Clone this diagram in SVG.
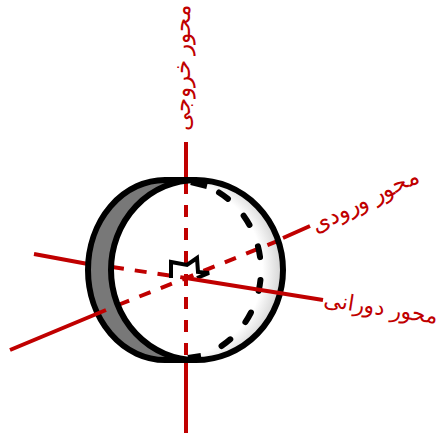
<svg xmlns="http://www.w3.org/2000/svg" width="439" height="434" viewBox="0 0 439 434">
<style>
.axis{stroke:#c00000;stroke-width:4;fill:none}
.dash{stroke-dasharray:12 11}
.ink{stroke:#000;fill:none;stroke-width:6}
.lbl{fill:#c00000;font-family:"Liberation Serif",serif;font-size:23px;direction:rtl;text-anchor:middle}
</style>
<defs><radialGradient id="g" gradientUnits="userSpaceOnUse" cx="176" cy="270" r="108"><stop offset="0.8" stop-color="#fff"/><stop offset="1" stop-color="#cfcfcf"/></radialGradient></defs>
<rect width="439" height="434" fill="#fff"/>
<g id="disc">
<path d="M165 180A77 90 0 0 0 165 360L196 360A85 90 0 0 1 196 180Z" fill="#787878" stroke="none"/>
<path d="M196 180A87 90 0 0 1 196 360A85 90 0 0 1 196 180Z" fill="url(#g)" stroke="none"/>
</g>
<g id="connectors">
<path class="axis" d="M186 142V180M186 360V433M34 254L88 264M283 238L310 226"/>
<path class="axis dash" d="M186 182V360M112 267L186 278M118 305L186 278L280 240"/>
</g>
<g id="outline">
<path class="ink" d="M165 180L196 180A87 90 0 0 1 196 360L165 360A77 90 0 0 1 165 180Z"/>
<path class="ink" d="M196 180A85 90 0 0 0 196 360"/>
<path class="ink" stroke-width="5" stroke-linecap="round" stroke-dasharray="11 23" d="M219 192.500A85 90 0 0 1 216 349.500"/>
<path class="ink" d="M191 182L207 186M188 358L201 356"/>
<path d="M171 278L171 262L187 265L197 258L198 272L209 273L197 278" fill="none" stroke="#000" stroke-width="4"/>
</g>
<g id="axes-front">
<path class="axis" d="M10 350L106 310M186 278L323 300"/>
</g>
<g id="label-output"><text class="lbl" transform="translate(190 68) rotate(-90)">محور خروجی</text></g>
<g id="label-input"><text class="lbl" transform="translate(368 207) rotate(-26)">محور ورودی</text></g>
<g id="label-rotary"><text class="lbl" style="font-size:22px" transform="translate(380 315) rotate(9)">محور دورانی</text></g>
</svg>
